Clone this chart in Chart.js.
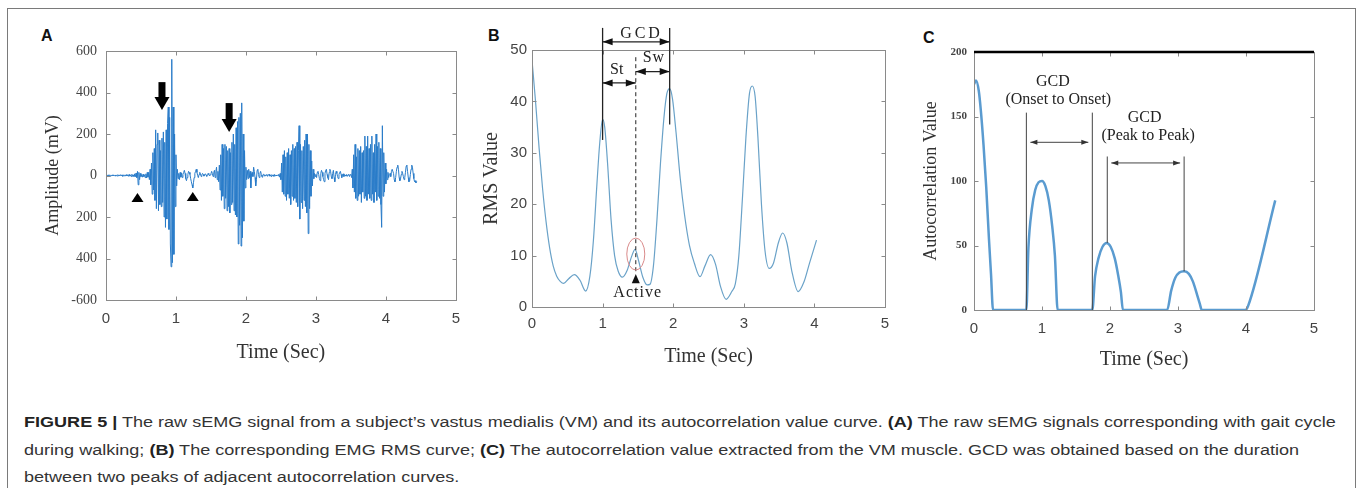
<!DOCTYPE html>
<html>
<head>
<meta charset="utf-8">
<script src="https://cdn.jsdelivr.net/npm/chart.js@4.4.1/dist/chart.umd.min.js"></script>
<style>
  body { margin: 0; width: 1358px; height: 488px; overflow: hidden; position: relative; background: #fff; font-family: "Liberation Sans", Arial, sans-serif; }
  #frame { position: absolute; left: 7px; top: 8px; width: 1349px; height: 492px; border: 1px solid #7a7a7a; box-sizing: border-box; }
  .panel { position: absolute; }
  .lbl { position: absolute; font: bold 16px "Liberation Sans", Arial, sans-serif; color: #111; }
  #caption { position: absolute; left: 24px; top: 409px; font-size: 14px; line-height: 27.5px; color: #333; white-space: nowrap; }
  #caption div { transform-origin: 0 50%; }
  #caption b { color: #222; }
</style>
</head>
<body>
<div id="frame"></div>
<div class="lbl" style="left:41px;top:27px">A</div>
<div class="lbl" style="left:488px;top:27px">B</div>
<div class="lbl" style="left:923px;top:29px">C</div>
<canvas id="chartA" class="panel" width="450" height="360" style="left:20px;top:20px"></canvas>
<canvas id="chartB" class="panel" width="440" height="360" style="left:470px;top:20px"></canvas>
<canvas id="chartC" class="panel" width="440" height="370" style="left:910px;top:20px"></canvas>
<div id="caption">
  <div><b>FIGURE 5 |</b> The raw sEMG signal from a subject’s vastus medialis (VM) and its autocorrelation value curve. <b>(A)</b> The raw sEMG signals corresponding with gait cycle</div>
  <div>during walking; <b>(B)</b> The corresponding EMG RMS curve; <b>(C)</b> The autocorrelation value extracted from the VM muscle. GCD was obtained based on the duration</div>
  <div>between two peaks of adjacent autocorrelation curves.</div>
</div>
<script>
// ---- data ----
const timeTicks = [0, 1, 2, 3, 4, 5];

// panel A: raw sEMG, one sample every 10 ms starting at 0 s
const emgRate = 100;
const emgAmp = [
  0, 2, -2, 3, -1, 2, -3, 2, -1, 3,
  -2, 3, -1, 2, -3, 1, -2, 4, -3, 2,
  -1, 4, -2, 3, -4, 2, -1, 3, -3, 4,
  -2, 3, -4, 5, -3, 2, -5, 6, -4, 3,
  -5, 8, -6, 12, -10, 20, -45, 15, -20, 10,
  -5, 4, -8, 6, -5, 3, -10, 8, -12, 15,
  -8, 15, -20, 30, -45, 60, -90, 110, -70, 130,
  -120, 220, -160, 150, 205, -170, 170, -140, 120, -150,
  180, -130, 210, -200, 160, -250, 220, -210, 250, 330,
  -260, 280, -330, -440, 560, -420, 330, -380, 200, -150,
  100, -50, 30, -15, 10, -20, 15, -8, 12, -10,
  5, 15, 25, 10, -15, -25, -10, 5, 20, 15,
  5, -15, -30, -45, -60, -35, -10, 10, 20, 30,
  15, 0, -10, 5, 15, 8, -5, 3, 10, 5,
  -3, 5, 8, 2, -4, 6, 10, 4, -2, 3,
  8, 20, 10, -5, 15, 25, -10, 20, 40, -20,
  20, -30, 50, -70, 100, -120, 150, -100, 130, -160,
  150, -110, 140, -170, 120, -150, 130, -180, 110, -140,
  160, -130, 200, -170, 150, -190, 230, -200, 260, -330,
  280, -240, 300, -340, 350, -300, 200, -220, 120, -60,
  40, -20, 25, -15, 30, -10, 20, -60, 10, 15,
  -5, 40, 20, -10, -50, -20, 25, 30, 5, -10,
  10, 20, 5, -8, 3, 6, -2, 4, -3, 2,
  5, -4, 3, 6, -3, 2, -5, 4, -2, 3,
  -4, 5, -3, 2, -2, 3, -1, 6, -8, 10,
  -20, 60, -80, 100, -90, 120, -100, 90, -120, 110,
  -90, 130, -110, 100, -140, 120, -100, 150, -120, 130,
  -110, 140, -130, 160, -150, 120, 240, -210, 150, -130,
  120, -160, 140, -120, 170, -150, 200, -180, 200, -280,
  150, -160, 120, -100, 70, -50, 30, -15, 10, -5,
  5, -10, 15, 20, 5, -15, -25, 10, 25, 15,
  -5, -20, -30, 10, 25, 30, 5, -10, -20, 15,
  30, 20, -5, -15, 10, 25, -10, -30, 5, 20,
  10, -5, -15, 5, 15, 20, 5, -10, 3, 8,
  -5, 4, 2, -3, 5, -4, 3, 6, -5, 4,
  5, -10, 30, -60, 100, -80, 150, -110, 90, -120,
  130, -100, 120, -90, 140, -130, 110, -80, 120, -110,
  190, -100, 140, -120, 190, -90, 130, -110, 150, -120,
  190, -90, 110, -130, 150, -80, 200, -120, 140, -100,
  160, -110, 130, -140, -250, 240, -100, 110, -80, 60,
  -40, 30, -20, 15, -10, 5, 10, -5, 20, 30,
  30, 10, -20, -30, -10, 20, 40, 50, 30, -10,
  -25, -15, 5, 20, 10, -5, -20, -10, 15, 45,
  50, 20, -10, -30, -25, 5, 30, 50, 40, 10,
  -15, -30, -25, -35, -30
];
const ampTickLabels = ['-600', '400', '200', '0', '200', '400', '600'];

// panel B: RMS curve
const rmsTime = [0, 0.05, 0.1, 0.15, 0.2, 0.25, 0.3, 0.35, 0.4, 0.45, 0.52, 0.6, 0.68, 0.76, 0.82, 0.87, 0.92, 0.96, 1.0, 1.03,
  1.07, 1.12, 1.17, 1.22, 1.28, 1.35, 1.41, 1.46, 1.51, 1.57, 1.63, 1.67, 1.72, 1.77, 1.82, 1.87, 1.91, 1.95, 1.99, 2.04,
  2.1, 2.16, 2.23, 2.3, 2.38, 2.45, 2.53, 2.6, 2.67, 2.75, 2.83, 2.88, 2.93, 2.98, 3.03, 3.08, 3.12, 3.16, 3.2, 3.25,
  3.3, 3.36, 3.42, 3.49, 3.55, 3.61, 3.68, 3.77, 3.85, 3.93, 4.03];
const rmsValue = [48, 40, 31, 23, 16.5, 11.5, 8, 6, 5, 4.6, 5.5, 6.3, 5.2, 3.1, 6, 13, 24, 32, 36.5, 35,
  28, 17, 10, 7, 5.8, 7.2, 9.8, 11.2, 9, 5.8, 4.3, 4.4, 8, 17, 28, 37, 41.5, 42.5, 40.5, 34,
  25, 18, 12, 8.5, 5.9, 8, 10.2, 8.3, 4, 1.5, 3, 4.5, 10, 21, 33, 41.5, 43, 41, 33, 20,
  11, 7.5, 8.5, 12.5, 14.4, 12.5, 7, 3, 4.8, 8.5, 13];

// panel C: autocorrelation curve
const acTime = [0, 0.03, 0.07, 0.1, 0.14, 0.18, 0.22, 0.25, 0.28, 0.5, 0.77, 0.8, 0.85, 0.9, 0.95, 1.0, 1.05, 1.1, 1.15, 1.19,
  1.23, 1.5, 1.74, 1.78, 1.83, 1.89, 1.95, 2.01, 2.07, 2.12, 2.16, 2.19, 2.5, 2.84, 2.9, 2.96, 3.02, 3.09, 3.16, 3.22,
  3.28, 3.32, 3.35, 3.7, 3.99, 4.03, 4.43];
const acValue = [175, 178, 170, 155, 128, 95, 55, 28, 0, 0, 0, 48, 78, 93, 99, 100, 96, 85, 65, 42,
  0, 0, 0, 26, 40, 49, 52, 49, 40, 27, 14, 0, 0, 0, 15, 25, 29, 30, 28, 22,
  12, 5, 0, 0, 0, 3, 85];

// ---- helpers ----
const SERIF = '"Liberation Serif", "Times New Roman", serif';
const SANS = '"Liberation Sans", Arial, sans-serif';

function line(ctx, x1, y1, x2, y2) {
  ctx.beginPath(); ctx.moveTo(x1, y1); ctx.lineTo(x2, y2); ctx.stroke();
}
function head(ctx, x, y, dir, len, half) {
  ctx.beginPath(); ctx.moveTo(x, y); ctx.lineTo(x - dir * len, y - half); ctx.lineTo(x - dir * len, y + half); ctx.closePath(); ctx.fill();
}
function dblArrow(ctx, x1, x2, y, len, half) {
  line(ctx, x1, y, x2, y);
  head(ctx, x1, y, -1, len, half);
  head(ctx, x2, y, 1, len, half);
}
function text(ctx, s, x, y, size, spacing) {
  ctx.font = size + 'px ' + SERIF;
  if (spacing) ctx.letterSpacing = spacing + 'px';
  ctx.textAlign = 'center'; ctx.textBaseline = 'middle';
  ctx.fillText(s, x + (spacing ? spacing / 2 : 0), y);
  if (spacing) ctx.letterSpacing = '0px';
}

// MATLAB-like box with inward ticks
const matlabBox = {
  id: 'matlabBox',
  afterDatasetsDraw(chart) {
    const { ctx, chartArea: a, scales: { x, y } } = chart;
    ctx.save();
    ctx.strokeStyle = '#8a8a8a';
    ctx.lineWidth = 1;
    const L = Math.round(a.left) + 0.5, R = Math.round(a.right) + 0.5, T = Math.round(a.top) + 0.5, B = Math.round(a.bottom) + 0.5;
    ctx.strokeRect(L, T, R - L, B - T);
    x.ticks.forEach(t => {
      const px = Math.round(x.getPixelForValue(t.value)) + 0.5;
      line(ctx, px, B, px, B - 4); line(ctx, px, T, px, T + 4);
    });
    y.ticks.forEach(t => {
      const py = Math.round(y.getPixelForValue(t.value)) + 0.5;
      line(ctx, L, py, L + 4, py); line(ctx, R, py, R - 4, py);
    });
    ctx.restore();
  }
};

function baseScales(o) {
  return {
    x: {
      type: 'linear', min: 0, max: 5,
      afterBuildTicks: s => { s.ticks = timeTicks.map(v => ({ value: v })); },
      ticks: { padding: o.xPad, color: '#444', font: { family: SANS, size: 15 }, maxRotation: 0 },
      grid: { display: false, drawTicks: false }, border: { display: false },
      title: { display: true, text: 'Time (Sec)', color: '#333', font: { family: SERIF, size: 20 }, padding: { top: 0, bottom: o.xTitlePad } },
      afterFit: s => { s.height = o.xHeight; }
    },
    y: {
      type: 'linear', min: o.yMin, max: o.yMax,
      ticks: { stepSize: o.yStep, padding: o.yPad, color: '#444', font: o.yFont, callback: o.yCb },
      grid: { display: false, drawTicks: false }, border: { display: false },
      title: { display: true, text: o.yTitle, color: '#333', font: { family: SERIF, size: o.yTitleSize }, padding: { top: o.yTitlePad, bottom: 0 } },
      afterFit: s => { s.width = o.yWidth; }
    }
  };
}

function baseOptions(pad, scales) {
  return {
    responsive: false, animation: false, devicePixelRatio: 1,
    layout: { padding: pad },
    plugins: { legend: { display: false }, tooltip: { enabled: false } },
    elements: { point: { radius: 0 } },
    scales: scales
  };
}

// ---- panel A ----
const annotA = {
  id: 'annotA',
  afterDraw(chart) {
    const { ctx, scales: { x, y } } = chart;
    ctx.save();
    ctx.fillStyle = '#000';
    [[0.8, 450, 316], [1.76, 349, 210]].forEach(([t, top, tip]) => {
      const px = x.getPixelForValue(t), y1 = y.getPixelForValue(top), y2 = y.getPixelForValue(tip);
      ctx.fillRect(px - 3.5, y1, 7, (y2 - y1) - 12);
      ctx.beginPath(); ctx.moveTo(px - 7.5, y2 - 13); ctx.lineTo(px + 7.5, y2 - 13); ctx.lineTo(px, y2); ctx.closePath(); ctx.fill();
    });
    [[0.45, -108], [1.24, -104]].forEach(([t, v]) => {
      const px = x.getPixelForValue(t), py = y.getPixelForValue(v);
      ctx.beginPath(); ctx.moveTo(px - 6, py + 4); ctx.lineTo(px + 6, py + 4); ctx.lineTo(px, py - 5); ctx.closePath(); ctx.fill();
    });
    ctx.restore();
  }
};

new Chart(document.getElementById('chartA'), {
  type: 'line',
  data: { datasets: [{ data: emgAmp.map((v, i) => ({ x: i / emgRate, y: v })), borderColor: '#2a7cc9', borderWidth: 1, tension: 0 }] },
  options: baseOptions({ top: 31, right: 14, left: 0, bottom: 0 }, baseScales({
    xPad: 10, xTitlePad: 15, xHeight: 80,
    yMin: -600, yMax: 600, yStep: 200, yPad: 9, yWidth: 86,
    yFont: { family: SERIF, size: 14 }, yCb: (v, i) => ampTickLabels[i],
    yTitle: 'Amplitude (mV)', yTitleSize: 18, yTitlePad: 22
  })),
  plugins: [matlabBox, annotA]
});

// ---- panel B ----
const annotB = {
  id: 'annotB',
  afterDraw(chart) {
    const { ctx, scales: { x, y } } = chart;
    const X = v => x.getPixelForValue(v), Y = v => y.getPixelForValue(v);
    ctx.save();
    ctx.strokeStyle = '#222'; ctx.fillStyle = '#111'; ctx.lineWidth = 1.3;
    line(ctx, X(1.0), Y(32.5), X(1.0), Y(54.3));
    line(ctx, X(1.95), Y(35.5), X(1.95), Y(54.3));
    dblArrow(ctx, X(1.0), X(1.95), Y(51.6), 10, 3.5);
    dblArrow(ctx, X(1.0), X(1.47), Y(43.6), 10, 3.5);
    dblArrow(ctx, X(1.47), X(1.95), Y(45.8), 10, 3.5);
    ctx.setLineDash([4, 3]); ctx.lineWidth = 1;
    line(ctx, X(1.47), Y(48.6), X(1.47), Y(6.6));
    ctx.setLineDash([]);
    ctx.strokeStyle = '#d98a8a';
    ctx.beginPath(); ctx.ellipse(X(1.47), Y(10.3), 9, 16, 0, 0, Math.PI * 2); ctx.stroke();
    ctx.beginPath(); ctx.moveTo(X(1.47) - 4, Y(4.6)); ctx.lineTo(X(1.47) + 4, Y(4.6)); ctx.lineTo(X(1.47), Y(6.4)); ctx.closePath(); ctx.fill();
    ctx.fillStyle = '#222';
    text(ctx, 'GCD', X(1.53), Y(53.2), 16, 3);
    text(ctx, 'St', X(1.2), Y(46.2), 16);
    text(ctx, 'Sw', X(1.72), Y(48.4), 16, 1);
    text(ctx, 'Active', X(1.49), Y(2.8), 16, 1);
    ctx.restore();
  }
};

new Chart(document.getElementById('chartB'), {
  type: 'line',
  data: { datasets: [{ data: rmsTime.map((t, i) => ({ x: t, y: rmsValue[i] })), borderColor: '#6aa2c8', borderWidth: 1.2, cubicInterpolationMode: 'monotone' }] },
  options: baseOptions({ top: 30, right: 25, left: 0, bottom: 0 }, baseScales({
    xPad: 8, xTitlePad: 11, xHeight: 73,
    yMin: 0, yMax: 50, yStep: 10, yPad: 5, yWidth: 62,
    yFont: { family: SANS, size: 15 },
    yTitle: 'RMS Value', yTitleSize: 20, yTitlePad: 10
  })),
  plugins: [matlabBox, annotB]
});

// ---- panel C ----
const annotC = {
  id: 'annotC',
  afterDraw(chart) {
    const { ctx, chartArea: a, scales: { x, y } } = chart;
    const X = v => x.getPixelForValue(v), Y = v => y.getPixelForValue(v);
    ctx.save();
    ctx.strokeStyle = '#000'; ctx.lineWidth = 2.5;
    line(ctx, a.left, Y(200), a.right, Y(200));
    ctx.strokeStyle = '#444'; ctx.fillStyle = '#333'; ctx.lineWidth = 1;
    line(ctx, X(0.77), Y(0), X(0.77), Y(153));
    line(ctx, X(1.74), Y(0), X(1.74), Y(153));
    dblArrow(ctx, X(0.77) + 4, X(1.74) - 4, Y(130), 7, 2.5);
    line(ctx, X(1.96), Y(52), X(1.96), Y(119));
    line(ctx, X(3.09), Y(30), X(3.09), Y(119));
    dblArrow(ctx, X(1.96) + 4, X(3.09) - 4, Y(114), 7, 2.5);
    ctx.fillStyle = '#222';
    text(ctx, 'GCD', X(1.16), Y(177), 16);
    text(ctx, '(Onset to Onset)', X(1.24), Y(163), 16);
    text(ctx, 'GCD', X(2.51), Y(149), 16);
    text(ctx, '(Peak to Peak)', X(2.56), Y(135), 16);
    ctx.restore();
  }
};

new Chart(document.getElementById('chartC'), {
  type: 'line',
  data: { datasets: [{ data: acTime.map((t, i) => ({ x: t, y: acValue[i] })), borderColor: '#5a9bd0', borderWidth: 2.5, cubicInterpolationMode: 'monotone' }] },
  options: baseOptions({ top: 32, right: 36, left: 0, bottom: 0 }, baseScales({
    xPad: 10, xTitlePad: 18, xHeight: 80,
    yMin: 0, yMax: 200, yStep: 50, yPad: 7, yWidth: 64,
    yFont: { family: SERIF, size: 11, weight: 'bold' },
    yTitle: 'Autocorrelation Value', yTitleSize: 18, yTitlePad: 10
  })),
  plugins: [matlabBox, annotC]
});

// stretch caption lines to the reference width
const capLines = document.querySelectorAll('#caption div');
const capScale = 1312 / capLines[0].scrollWidth;
capLines.forEach(d => { d.style.transform = 'scaleX(' + capScale + ')'; });
</script>
</body>
</html>
